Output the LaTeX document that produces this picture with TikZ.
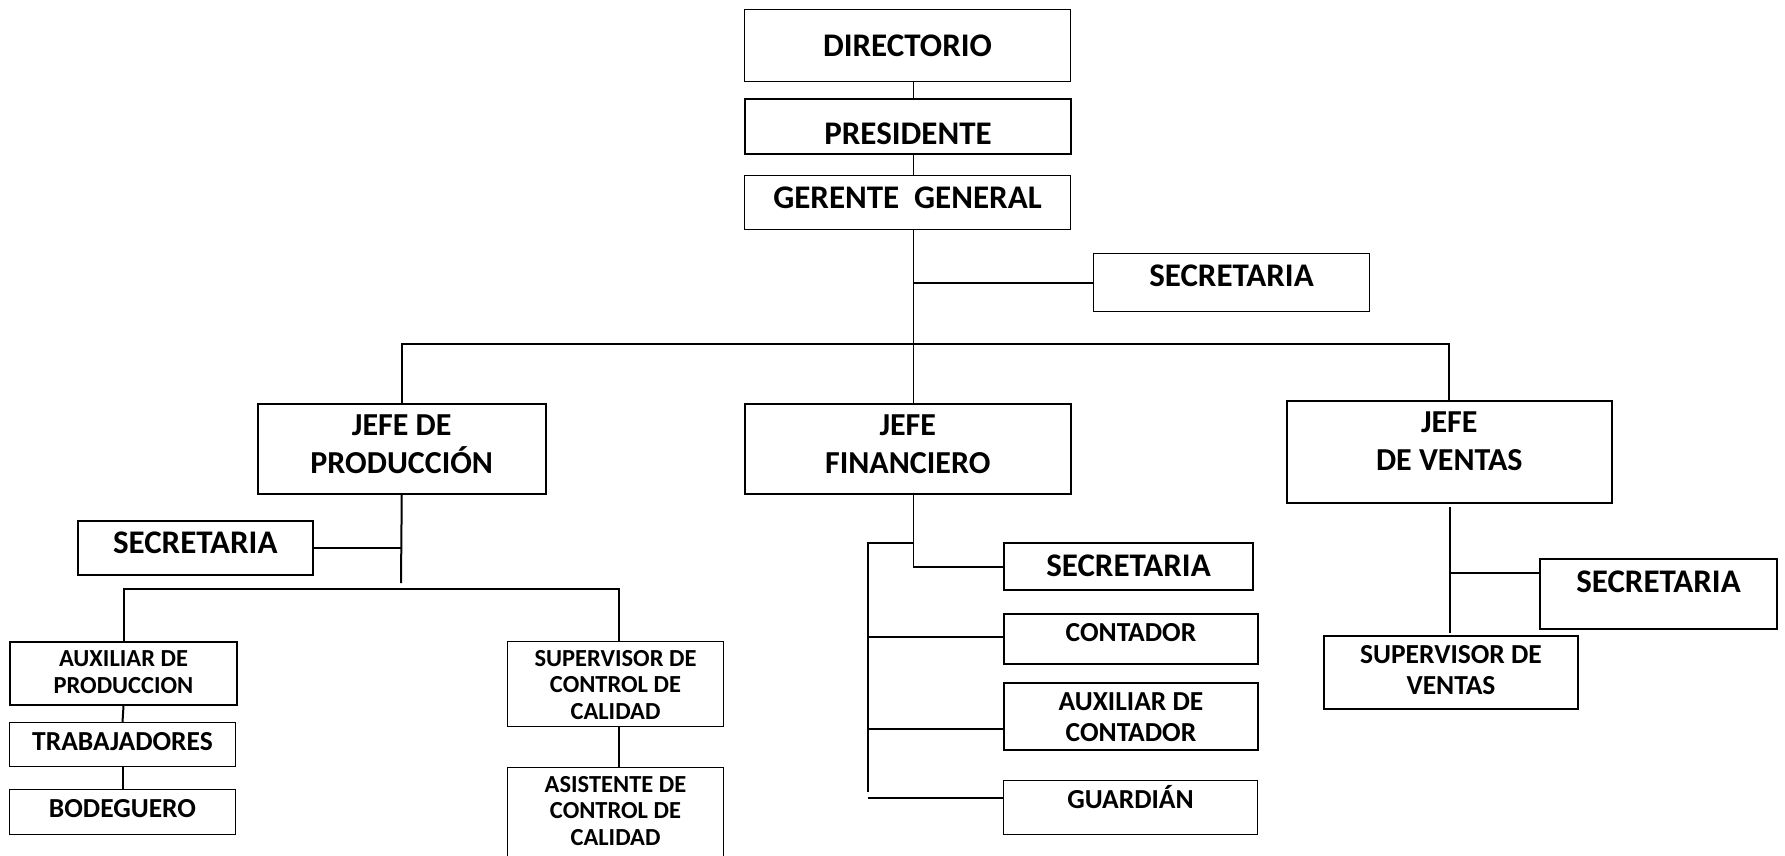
\documentclass[tikz,border=0pt]{standalone}
\usepackage{fontspec}
\setmainfont{Carlito}
\usetikzlibrary{positioning}

\newcommand{\altotexto}{1em}

\begin{document}
\begin{tikzpicture}[
        x=1pt, y=-1pt,
        puesto/.style n args={2}{draw, line width=1pt, inner sep=0pt, anchor=north west,
            execute at begin node={\begin{minipage}[t][#2pt][t]{#1pt}\centering\rule{0pt}{\altotexto}},
            execute at end node={\end{minipage}}},
        bajar/.code={\renewcommand{\altotexto}{#1}},
        grande/.style={font=\fontsize{33}{38}\selectfont\bfseries},
        jefe/.style={font=\fontsize{32}{37.5}\selectfont\bfseries},
        medio/.style={font=\fontsize{27.5}{30.5}\selectfont\bfseries},
        chico/.style={font=\fontsize{24.5}{26.5}\selectfont\bfseries},
        fino/.style={line width=1pt},
        medio borde/.style={line width=1.5pt},
        grueso/.style={line width=2pt}
    ]

        \useasboundingbox (0,0) rectangle (1785,855);

        % Direccion
        \node[puesto={326}{72}, grande, bajar=47pt] (dir) at (744,9) {DIRECTORIO};
        \node[puesto={326}{55}, grande, grueso, bajar=45pt] (pres) at (744,98) {PRESIDENTE};
        \node[puesto={326}{54}, grande] (ger) at (744,175) {GERENTE~~GENERAL};
        \node[puesto={276}{58}, grande] (secg) at (1093,253) {SECRETARIA};

        % Jefaturas
        \node[puesto={288}{90}, jefe, medio borde] (jprod) at (257,403) {JEFE DE\\PRODUCCIÓN};
        \node[puesto={326}{90}, jefe, medio borde] (jfin) at (744,403) {JEFE\\FINANCIERO};
        \node[puesto={325}{102}, jefe, medio borde] (jven) at (1286,400) {JEFE\\DE VENTAS};

        % Produccion
        \node[puesto={235}{54}, grande, medio borde] (secp) at (77,520) {SECRETARIA};
        \node[puesto={227}{63}, chico, grueso] (auxp) at (9,641) {AUXILIAR DE\\PRODUCCION};
        \node[puesto={226}{44}, medio] (trab) at (9,722) {TRABAJADORES};
        \node[puesto={226}{45}, medio] (bodeg) at (9,789) {BODEGUERO};
        \node[puesto={216}{85}, chico] (supcc) at (507,641) {SUPERVISOR DE\\CONTROL DE\\CALIDAD};
        \node[puesto={216}{110}, chico] (asist) at (507,767) {ASISTENTE DE\\CONTROL DE\\CALIDAD};

        % Finanzas
        \node[puesto={249}{47}, grande, grueso] (secf) at (1003,542) {SECRETARIA};
        \node[puesto={254}{50}, medio, grueso] (cont) at (1003,613) {CONTADOR};
        \node[puesto={254}{67}, medio, grueso] (auxc) at (1003,682) {AUXILIAR DE\\CONTADOR};
        \node[puesto={254}{54}, medio] (guard) at (1003,780) {GUARDIÁN};

        % Ventas
        \node[puesto={237}{70}, grande, grueso] (secv) at (1539,558) {SECRETARIA};
        \node[puesto={254}{73}, medio, grueso] (supv) at (1323,635) {SUPERVISOR DE\\VENTAS};

        % Puntos de las lineas
        \coordinate (eje) at (913,0);
        \coordinate (barra) at (0,344);
        \coordinate (pfin) at (401,583);
        \coordinate (pbar) at (0,589);
        \coordinate (qc) at (619,0);
        \coordinate (fb) at (868,543);
        \coordinate (fe) at (868,792);
        \coordinate (vtop) at (1450,507);
        \coordinate (vbot) at (1450,633);

        % Tronco
        \draw[fino] (dir.south -| eje) -- (pres.north -| eje);
        \draw[fino] (pres.south -| eje) -- (ger.north -| eje);
        \draw[fino] (ger.south -| eje) -- (jfin.north -| eje);
        \draw[grueso] (secg.west) -- (secg.west -| eje);
        \draw[grueso] (jprod.north) -- (jprod.north |- barra) -- (jven.north |- barra) -- (jven.north);

        % Produccion
        \draw[grueso] (jprod.south) -- (pfin);
        \draw[grueso] (secp.east) -- (secp.east -| pfin);
        \draw[grueso] (auxp.north) |- (pbar -| qc) -- (supcc.north -| qc);
        \draw[grueso] (auxp.south) -- (trab.north);
        \draw[grueso] (trab.south) -- (bodeg.north);
        \draw[grueso] (supcc.south -| qc) -- (asist.north -| qc);

        % Finanzas
        \draw[fino] (jfin.south -| eje) -- (secf.west -| eje);
        \draw[grueso] (secf.west -| eje) -- (secf.west);
        \draw[grueso] (fe) -- (fb) -- (fb -| eje);
        \draw[grueso] ([yshift=2pt]cont.west) -- ([yshift=2pt]cont.west -| fb);
        \draw[grueso] ([yshift=-12.5pt]auxc.west) -- ([yshift=-12.5pt]auxc.west -| fb);
        \draw[grueso] ([yshift=10pt]guard.west) -- ([yshift=10pt]guard.west -| fb);

        % Ventas
        \draw[grueso] (vtop) -- (vbot);
        \draw[grueso] ([yshift=21pt]secv.west) -- ([yshift=21pt]secv.west -| vtop);

    \end{tikzpicture}
\end{document}
